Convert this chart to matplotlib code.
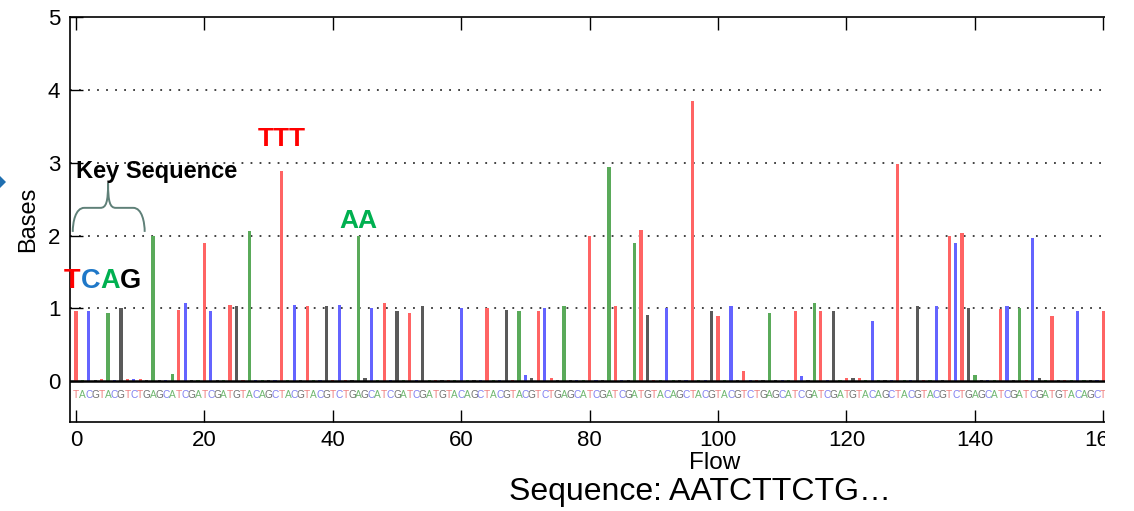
import matplotlib
matplotlib.use("Agg")
from matplotlib import pyplot as plt
from matplotlib.path import Path
from matplotlib.patches import PathPatch, Rectangle, Polygon
import numpy as np

# 454 flow order, 32 flows, repeated
flow_cycle = "TACGTACGTCTGAGCATCGATCGATGTACAGC"

# flowgram signal, one value per flow (0..163)
signal = [
    0.97, 0.02, 0.96, 0.02, 0.03, 0.94, 0.02, 1.00, 0.03, 0.03, 0.03, 0.02, 2.00, 0.02, 0.02, 0.10,
    0.98, 1.07, 0.02, 0.02, 1.90, 0.97, 0.02, 0.02, 1.05, 1.03, 0.02, 2.06, 0.02, 0.02, 0.02, 0.02,
    2.88, 0.02, 1.05, 0.02, 1.03, 0.02, 0.02, 1.03, 0.02, 1.05, 0.02, 0.02, 2.00, 0.04, 1.01, 0.02,
    1.07, 0.02, 0.96, 0.02, 0.94, 0.02, 1.03, 0.02, 0.02, 0.02, 0.02, 0.02, 1.01, 0.02, 0.02, 0.02,
    1.00, 0.02, 0.02, 0.98, 0.02, 0.96, 0.08, 0.04, 0.96, 1.01, 0.04, 0.02, 1.03, 0.02, 0.02, 0.02,
    2.00, 0.02, 0.02, 2.94, 1.03, 0.02, 0.02, 1.90, 2.08, 0.91, 0.02, 0.02, 1.00, 0.02, 0.02, 0.02,
    3.85, 0.02, 0.02, 0.97, 0.90, 0.02, 1.03, 0.02, 0.14, 0.02, 0.02, 0.02, 0.94, 0.02, 0.02, 0.02,
    0.97, 0.07, 0.02, 1.07, 0.97, 0.02, 0.96, 0.02, 0.04, 0.04, 0.04, 0.02, 0.83, 0.02, 0.02, 0.02,
    2.98, 0.02, 0.02, 1.03, 0.02, 0.02, 1.03, 0.02, 1.99, 1.90, 2.04, 1.00, 0.08, 0.02, 0.02, 0.02,
    0.99, 1.03, 0.02, 1.00, 0.02, 1.97, 0.04, 0.02, 0.90, 0.02, 0.02, 0.02, 0.96, 0.02, 0.02, 0.02,
    0.96, 0.02, 0.02, 0.02,
]

xticks = [0, 20, 40, 60, 80, 100, 120, 140, 160]
yticks = [0, 1, 2, 3, 4, 5]

bar_col = {"T": "#ff6464", "A": "#5aaa5a", "C": "#6464ff", "G": "#5a5a5a"}
txt_col = {"T": "#f08080", "A": "#70b870", "C": "#8080f0", "G": "#707070"}

plt.rcParams['font.family'] = ['Liberation Sans', 'DejaVu Sans']
narrow = ['Liberation Sans Narrow', 'Liberation Sans', 'DejaVu Sans']

flows = np.arange(len(signal))
bases = [flow_cycle[i % 32] for i in flows]

fig = plt.figure(figsize=(11.34, 5.11), dpi=100)
ax = fig.add_axes([70 / 1134, 1 - 422 / 511, (1129 - 70) / 1134, (422 - 17) / 511])

ax.bar(flows, signal, width=0.5, color=[bar_col[b] for b in bases], zorder=2)
ax.axhline(0, color="black", lw=1.8, zorder=3)

for f, b in zip(flows, bases):
    ax.text(f, -0.19, b, color=txt_col[b], fontsize=7.3, family=narrow,
            ha="center", va="center", zorder=2)

ax.set_xlim(-0.93, 164)
ax.set_ylim(-0.56, 5)
ax.set_xticks(xticks)
ax.set_yticks(yticks)
ax.set_xticklabels([str(t) for t in xticks], family=narrow, fontsize=16)
ax.set_yticklabels([str(t) for t in yticks], fontsize=16)
ax.tick_params(direction="in", length=9, top=True, right=True, width=1)
ax.tick_params(axis="x", pad=6)
ax.tick_params(axis="y", pad=7)
for y in [1, 2, 3, 4]:
    ax.axhline(y, color="#333333", lw=1.3, linestyle=(0, (1, 4)), zorder=1)
for s in ax.spines.values():
    s.set_linewidth(1.2)

ax.set_ylabel("Bases", fontsize=17, labelpad=6)

# annotations
ax.text(32.1, 3.33, "TTT", color="#ff0000", fontsize=19, fontweight="bold", ha="center", va="center")
ax.text(44.0, 2.2, "AA", color="#00b050", fontsize=19, fontweight="bold", ha="center", va="center")
ax.text(0.0, 2.88, "Key Sequence", color="black", fontsize=17, fontweight="bold", ha="left", va="center")

tcag = [("T", "#ff0000"), ("C", "#1f78c8"), ("A", "#00b050"), ("G", "black")]
prev = ax.text(-1.87, 1.37, tcag[0][0], color=tcag[0][1], fontsize=19.5, fontweight="bold",
               ha="left", va="center")
for ch, c in tcag[1:]:
    prev = ax.annotate(ch, xy=(1, 0.5), xycoords=prev, color=c, fontsize=19.5,
                       fontweight="bold", ha="left", va="center")

# curly brace over the key flows
bx0, bx1, bm, yb, yh, yt = -0.5, 10.7, 5.0, 2.05, 2.38, 2.72
verts = [(bx0, yb),
         (bx0, yh - 0.2), (bx0 + 0.4, yh), (bx0 + 1.8, yh),
         (bm - 1.2, yh),
         (bm - 0.3, yh), (bm, yh + 0.08), (bm, yt),
         (bm, yh + 0.08), (bm + 0.3, yh), (bm + 1.2, yh),
         (bx1 - 1.8, yh),
         (bx1 - 0.4, yh), (bx1, yh - 0.2), (bx1, yb)]
codes = [Path.MOVETO,
         Path.CURVE4, Path.CURVE4, Path.CURVE4,
         Path.LINETO,
         Path.CURVE4, Path.CURVE4, Path.CURVE4,
         Path.CURVE4, Path.CURVE4, Path.CURVE4,
         Path.LINETO,
         Path.CURVE4, Path.CURVE4, Path.CURVE4]
ax.add_patch(PathPatch(Path(verts, codes), fill=False, edgecolor="#5f8078", lw=1.4, zorder=4))

# picture was cropped on the right
fig.patches.append(Rectangle((1105 / 1134, 0), 1, 1, transform=fig.transFigure,
                             facecolor="white", edgecolor="none", zorder=10))
fig.patches.append(Polygon([(0, 1 - 176 / 511), (6 / 1134, 1 - 182 / 511), (0, 1 - 188 / 511)],
                           closed=True, transform=fig.transFigure, facecolor="#1f6fb0",
                           edgecolor="none", zorder=10))

fig.text(715 / 1134, 1 - 463 / 511, "Flow", family=narrow, fontsize=17.5, ha="center", va="center")
fig.text(700 / 1134, 1 - 492 / 511, "Sequence: AATCTTCTG\u2026", family=narrow, fontsize=23,
         ha="center", va="center")

fig.savefig("out.png", dpi=100)
